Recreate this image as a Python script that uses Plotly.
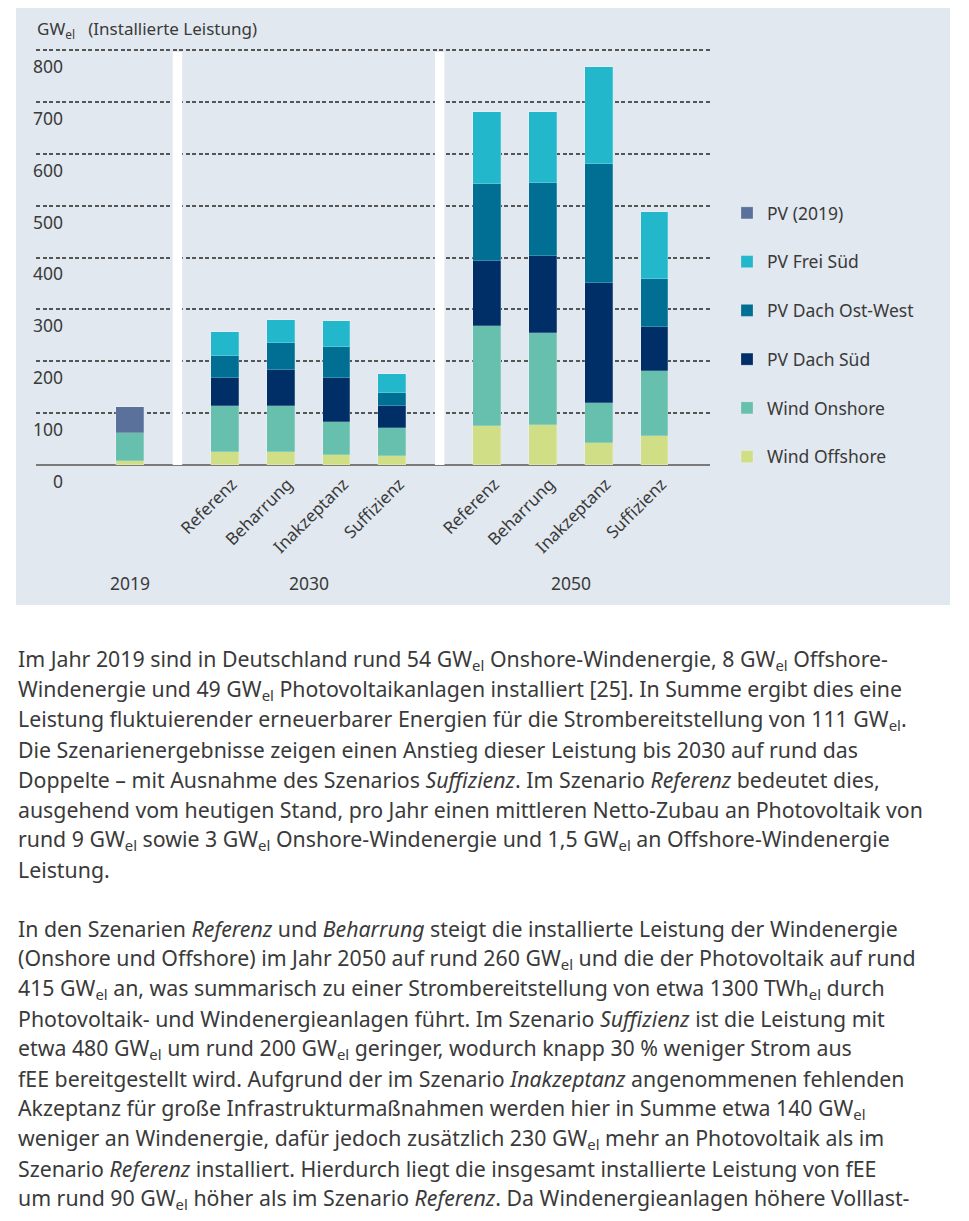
import plotly.graph_objects as go

W, H = 969, 1221
OFF = 8  # default body margin of the page

# ---------------- data ----------------
bar_labels = ["2019", "Referenz", "Beharrung", "Inakzeptanz", "Suffizienz",
              "Referenz", "Beharrung", "Inakzeptanz", "Suffizienz"]
year_labels = ["2019", "2030", "2050"]

wind_offshore = [8, 26, 26, 19, 17, 76, 78, 42, 56]
wind_onshore = [54, 87, 87, 63, 54, 191, 176, 78, 125]
pv_dach_sued = [None, 55, 71, 86, 43, 126, 148, 230, 85]
pv_dach_ost_west = [None, 43, 52, 60, 24, 148, 142, 231, 92]
pv_frei_sued = [None, 45, 44, 49, 37, 140, 137, 187, 130]
pv_2019 = [49, None, None, None, None, None, None, None, None]

y_tick_values = [0, 100, 200, 300, 400, 500, 600, 700, 800]

series = [
    ("Wind Offshore", wind_offshore, "#d0df85"),
    ("Wind Onshore", wind_onshore, "#67c0ad"),
    ("PV Dach Süd", pv_dach_sued, "#002f68"),
    ("PV Dach Ost-West", pv_dach_ost_west, "#006f93"),
    ("PV Frei Süd", pv_frei_sued, "#23b7cb"),
    ("PV (2019)", pv_2019, "#5a729b"),
]

# ---------------- layout geometry ----------------
x_pos = [0.0, 1.7, 2.7, 3.7, 4.7, 6.4, 7.4, 8.4, 9.4]
separators = [0.85, 5.55]
year_groups = [[0], [1, 2, 3, 4], [5, 6, 7, 8]]

FW, FH = W - OFF, H - OFF

def px(x):
    return (x - OFF) / FW

def py(y):
    return 1 - (y - OFF) / FH

PX_X0, PX_UNIT = 130.0, 55.8          # pixel of x=0 and px per unit
PX_Y0, PX_YTOP = 465.0, 50.0          # pixel of y=0 and y=800
px_per_val = (PX_Y0 - PX_YTOP) / 800.0
plot_left, plot_right = 36.0, 710.0
plot_top, plot_bottom = 44.0, 470.0

xr = [(plot_left - PX_X0) / PX_UNIT, (plot_right - PX_X0) / PX_UNIT]
yr = [-(plot_bottom - PX_Y0) / px_per_val, 800 + (PX_YTOP - plot_top) / px_per_val]

FONT = "Noto Sans"
TXT = "#3a3a3a"

fig = go.Figure()
n = len(series)
for k, (name, vals, col) in enumerate(series):
    fig.add_trace(go.Bar(
        x=x_pos, y=vals, name=name, width=0.5,
        marker=dict(color=col, line=dict(width=0.6, color="rgba(255,255,255,0.35)")),
        legendgroup=name, legendrank=n - k,
    ))

shapes = [
    dict(type="rect", xref="paper", yref="paper", x0=px(16), x1=px(950),
         y0=py(605), y1=py(4), fillcolor="#e1e8ef", line=dict(width=0), layer="below"),
]
for s in separators:
    shapes.append(dict(type="rect", xref="x", yref="y", x0=s - 0.085, x1=s + 0.085,
                       y0=0, y1=796, fillcolor="white", line=dict(width=0), layer="between"))

annotations = []
annotations.append(dict(xref="paper", yref="paper", x=px(35), y=py(30), xanchor="left",
                        yanchor="middle", showarrow=False,
                        text="GW<sub>el</sub>   (Installierte Leistung)",
                        font=dict(family=FONT, size=17, color=TXT)))
for v in y_tick_values:
    annotations.append(dict(xref="paper", yref="y", x=px(65), y=v, yshift=-16,
                            xanchor="right", yanchor="middle", showarrow=False,
                            text=str(v), font=dict(family=FONT, size=17.5, color=TXT)))
for lab, grp in zip(year_labels, year_groups):
    xc = sum(x_pos[i] for i in grp) / len(grp)
    annotations.append(dict(xref="x", yref="paper", x=xc, y=py(583), xanchor="center",
                            yanchor="middle", showarrow=False, text=lab,
                            font=dict(family=FONT, size=17.5, color=TXT)))

para1 = [
    "Im Jahr 2019 sind in Deutschland rund 54 GW<sub>el</sub> Onshore-Windenergie, 8 GW<sub>el</sub> Offshore-",
    "Windenergie und 49 GW<sub>el</sub> Photovoltaikanlagen installiert [25]. In Summe ergibt dies eine",
    "Leistung fluktuierender erneuerbarer Energien für die Strombereitstellung von 111 GW<sub>el</sub>.",
    "Die Szenarienergebnisse zeigen einen Anstieg dieser Leistung bis 2030 auf rund das",
    "Doppelte – mit Ausnahme des Szenarios <i>Suffizienz</i>. Im Szenario <i>Referenz</i> bedeutet dies,",
    "ausgehend vom heutigen Stand, pro Jahr einen mittleren Netto-Zubau an Photovoltaik von",
    "rund 9 GW<sub>el</sub> sowie 3 GW<sub>el</sub> Onshore-Windenergie und 1,5 GW<sub>el</sub> an Offshore-Windenergie",
    "Leistung.",
]
para2 = [
    "In den Szenarien <i>Referenz</i> und <i>Beharrung</i> steigt die installierte Leistung der Windenergie",
    "(Onshore und Offshore) im Jahr 2050 auf rund 260 GW<sub>el</sub> und die der Photovoltaik auf rund",
    "415 GW<sub>el</sub> an, was summarisch zu einer Strombereitstellung von etwa 1300 TWh<sub>el</sub> durch",
    "Photovoltaik- und Windenergieanlagen führt. Im Szenario <i>Suffizienz</i> ist die Leistung mit",
    "etwa 480 GW<sub>el</sub> um rund 200 GW<sub>el</sub> geringer, wodurch knapp 30 % weniger Strom aus",
    "fEE bereitgestellt wird. Aufgrund der im Szenario <i>Inakzeptanz</i> angenommenen fehlenden",
    "Akzeptanz für große Infrastrukturmaßnahmen werden hier in Summe etwa 140 GW<sub>el</sub>",
    "weniger an Windenergie, dafür jedoch zusätzlich 230 GW<sub>el</sub> mehr an Photovoltaik als im",
    "Szenario <i>Referenz</i> installiert. Hierdurch liegt die insgesamt installierte Leistung von fEE",
    "um rund 90 GW<sub>el</sub> höher als im Szenario <i>Referenz</i>. Da Windenergieanlagen höhere Volllast-",
]
for i, line in enumerate(para1):
    annotations.append(dict(xref="paper", yref="paper", x=px(16), y=py(659 + 30.1 * i),
                            xanchor="left", yanchor="middle", showarrow=False, text=line,
                            font=dict(family=FONT, size=21.3, color=TXT)))
for i, line in enumerate(para2):
    annotations.append(dict(xref="paper", yref="paper", x=px(16), y=py(928 + 30.1 * i),
                            xanchor="left", yanchor="middle", showarrow=False, text=line,
                            font=dict(family=FONT, size=21.3, color=TXT)))

fig.update_layout(
    width=FW, height=FH, autosize=False,
    margin=dict(l=0, r=0, t=0, b=0),
    paper_bgcolor="white", plot_bgcolor="rgba(0,0,0,0)",
    barmode="stack", bargap=0,
    font=dict(family=FONT, color=TXT),
    showlegend=True,
    legend=dict(x=px(727), y=py(195), xanchor="left", yanchor="top",
                traceorder="grouped", tracegroupgap=23,
                bgcolor="rgba(0,0,0,0)", font=dict(family=FONT, size=17.5, color=TXT),
                itemclick=False),
    xaxis=dict(domain=[px(plot_left), px(plot_right)], range=xr, showgrid=False,
               zeroline=False, showline=False, ticks="",
               tickvals=x_pos[1:], ticktext=bar_labels[1:], tickangle=-45,
               ticklabelshift=7,
               tickfont=dict(family=FONT, size=17, color=TXT)),
    yaxis=dict(domain=[py(plot_bottom), py(plot_top)], range=yr, showgrid=True,
               gridcolor="#555555", griddash="4px,2.5px", gridwidth=1.5,
               tickvals=y_tick_values[1:], showticklabels=False, ticks="",
               zeroline=True, zerolinecolor="#7a7a7a", zerolinewidth=2.2, showline=False),
    shapes=shapes,
    annotations=annotations,
)

fig.write_html("out.html")
